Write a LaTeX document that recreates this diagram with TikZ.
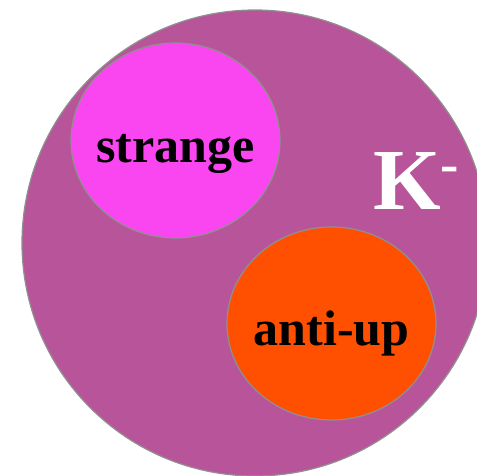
\documentclass[tikz,border=0pt]{standalone}
\usepackage{fontspec}
\setmainfont{Liberation Serif}
\usetikzlibrary{shapes.geometric,positioning}
\definecolor{kaoncol}{HTML}{B8559A}
\definecolor{strangecol}{HTML}{FA46F0}
\definecolor{upcol}{HTML}{FF4F00}
\definecolor{rimcol}{HTML}{909090}
\tikzset{
  hadron/.style={draw=rimcol, line width=1.2pt, circle, fill=kaoncol, minimum size=466pt, inner sep=0pt},
  quark/.style={draw=rimcol, line width=1.2pt, ellipse, minimum width=209pt, minimum height=195pt, inner sep=0pt},
  qword/.style={anchor=base, inner sep=0pt, font=\fontsize{50}{50}\selectfont\bfseries},
}
\begin{document}
\begin{tikzpicture}[x=1pt,y=-1pt]
  \useasboundingbox (0,0) rectangle (477,476);
  \clip (0,0) rectangle (477,476);

  % the meson
  \node[hadron] (kaon) at (255,243) {};
  \node[anchor=base west, inner sep=0pt, text=white, font=\fontsize{87}{87}\selectfont\bfseries] (kname) at (373,210)
    {K\raisebox{27.6pt}{\fontsize{55}{55}\selectfont -}};

  % quarks
  \node[quark, fill=strangecol] (strange) at (175.5,140.5) {};
  \node[qword] (strangetxt) at ([yshift=-22.5pt]strange.center) {strange};

  \node[quark, fill=upcol, minimum height=193pt] (antiup) at (331.5,323.5) {};
  \node[qword] (antiuptxt) at ([yshift=-21.5pt]antiup.center) {anti-up};
\end{tikzpicture}
\end{document}
